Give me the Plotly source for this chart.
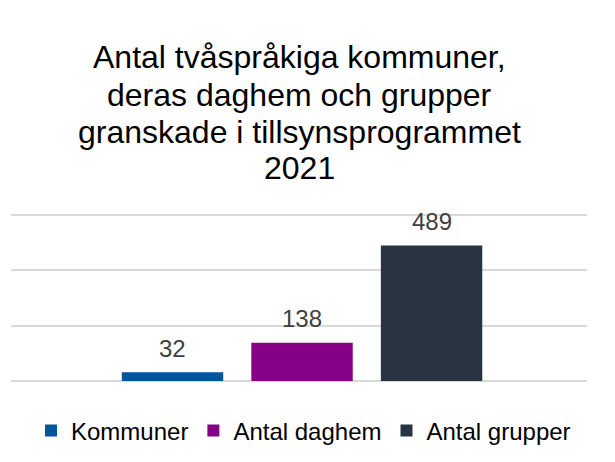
import plotly.graph_objects as go

series = ["Kommuner", "Antal daghem", "Antal grupper"]
values = [32, 138, 489]
colors = ["#00559B", "#850085", "#283442"]
title_lines = [
    "Antal tvåspråkiga kommuner,",
    "deras daghem och grupper",
    "granskade i tillsynsprogrammet",
    "2021",
]

FONT = "Liberation Sans, Arial, sans-serif"
W, H = 607, 454          # page body has an 8px margin
L, R, T, B = 3, 28, 204, 81
plot_h = H - T - B

fig = go.Figure()
for name, val, col in zip(series, values, colors):
    fig.add_trace(go.Bar(
        x=[name], y=[val], name=name,
        marker=dict(color=col, line=dict(width=0)),
        hoverinfo="name+y",
    ))
    fig.add_annotation(
        x=name, y=val, xref="x", yref="y", text=str(val), showarrow=False,
        yanchor="middle", yshift=24,
        font=dict(size=24, color="#404040", family=FONT),
    )

# title, one annotation per line for tighter line spacing
title_fig_y = [49, 87, 124, 160]
for line, fy in zip(title_lines, title_fig_y):
    fig.add_annotation(
        x=0.5, xref="paper", y=(H - B - fy) / plot_h, yref="paper",
        text=line, showarrow=False, xanchor="center", yanchor="middle",
        font=dict(size=32, color="#000000", family=FONT),
    )

fig.update_layout(
    width=W, height=H,
    paper_bgcolor="white", plot_bgcolor="white",
    margin=dict(l=L, r=R, t=T, b=B),
    bargap=0.217,
    font=dict(family=FONT, color="#000000"),
    showlegend=True,
    legend=dict(
        orientation="h", x=0.5 - 8 / W, xanchor="center", xref="container",
        y=1 - 423 / H, yref="container", yanchor="middle",
        font=dict(size=24, color="#000000", family=FONT),
        itemwidth=30,
    ),
)
fig.update_xaxes(range=[-1.247, 3.20], showticklabels=False, showgrid=False,
                 zeroline=False, showline=False)
fig.update_yaxes(range=[0, 610], dtick=200, showticklabels=False,
                 showgrid=True, gridcolor="#D9D9D9", gridwidth=2,
                 zeroline=True, zerolinecolor="#D9D9D9", zerolinewidth=2)

fig.write_html("out.html")
